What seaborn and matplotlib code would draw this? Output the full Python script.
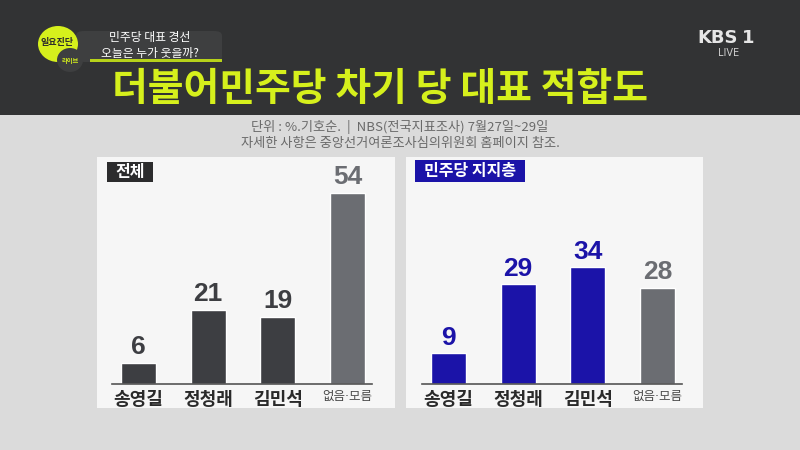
import numpy as np
import pandas as pd
import matplotlib
from matplotlib import pyplot as plt
from matplotlib.patches import Rectangle, FancyBboxPatch, Ellipse
import seaborn as sns

sns.set_theme(style='white')
matplotlib.rcParams['font.family'] = ['Noto Sans CJK KR', 'DejaVu Sans']

# data
candidates = ['송영길', '정청래', '김민석', '없음·모름']
overall = [6, 21, 19, 54]
supporters = [9, 29, 34, 28]

overall_colors = ['#3d3e42', '#3d3e42', '#3d3e42', '#6b6d72']
supporter_colors = ['#1b13a8', '#1b13a8', '#1b13a8', '#6b6d72']

W, H = 800, 450
fig = plt.figure(figsize=(8, 4.5), dpi=100)
fig.patch.set_facecolor('#dbdbdb')


def fx(x):
    return x / W


def fy(y):
    return 1 - y / H


def box(x0, y0, x1, y1, color, **kw):
    fig.patches.append(Rectangle((fx(x0), fy(y1)), fx(x1 - x0), (y1 - y0) / H,
                                 transform=fig.transFigure, facecolor=color,
                                 edgecolor='none', **kw))


# header band
box(0, 0, 800, 115, '#323334', zorder=0)
fig.text(fx(380), fy(89), '더불어민주당 차기 당 대표 적합도', color='#d6f01c',
         fontsize=28, fontweight='heavy', ha='center', va='center')

# program badge
fig.patches.append(FancyBboxPatch((fx(76), fy(62)), fx(146), 31 / H,
                                  boxstyle='round,pad=0,rounding_size=0.01',
                                  transform=fig.transFigure, facecolor='#3e3f40',
                                  edgecolor='none'))
box(90, 59, 222, 62, '#b7d21a')
fig.patches.append(Ellipse((fx(58), fy(44)), 40 / W, 36 / H, transform=fig.transFigure,
                           facecolor='#d6f01c', edgecolor='none'))
fig.patches.append(Ellipse((fx(70), fy(60)), 26 / W, 24 / H, transform=fig.transFigure,
                           facecolor='#3e3f40', edgecolor='none'))
fig.text(fx(57), fy(42), '일요진단', color='#2a2a2a', fontsize=6.5,
         fontweight='bold', ha='center', va='center')
fig.text(fx(70), fy(61), '라이브', color='#d6f01c', fontsize=4.5,
         fontweight='bold', ha='center', va='center')
fig.text(fx(150), fy(38), '민주당 대표 경선', color='white', fontsize=8.5,
         ha='center', va='center')
fig.text(fx(150), fy(53), '오늘은 누가 웃을까?', color='white', fontsize=8.5,
         ha='center', va='center')

# channel logo
fig.text(fx(718), fy(38), 'KBS', color='#e6e6e6', fontsize=13, fontweight='bold',
         ha='center', va='center', family='DejaVu Sans')
fig.text(fx(748), fy(38), '1', color='#e6e6e6', fontsize=13, fontweight='bold',
         ha='center', va='center', family='DejaVu Sans')
fig.text(fx(729), fy(53), 'LIVE', color='#d0d0d0', fontsize=7,
         ha='center', va='center', family='DejaVu Sans')

# source notes
fig.text(fx(400), fy(127), '단위 : %.기호순.  |  NBS(전국지표조사) 7월27일~29일',
         color='#6a6a6a', fontsize=9.5, ha='center', va='center')
fig.text(fx(400), fy(143), '자세한 사항은 중앙선거여론조사심의위원회 홈페이지 참조.',
         color='#6a6a6a', fontsize=9.5, ha='center', va='center')

# panels
box(97, 157, 395, 408, '#f6f6f6', zorder=0)
box(406, 157, 703, 408, '#f6f6f6', zorder=0)


def draw_panel(left, values, colors, ppu, tag, tag_box, tag_color):
    ax = fig.add_axes([fx(left), fy(384), fx(260), 200 / H])
    ax.set_zorder(1)
    df = pd.DataFrame({'cand': candidates, 'val': values})
    sns.barplot(data=df, x='cand', y='val', hue='cand', palette=colors,
                width=0.5, legend=False, ax=ax, saturation=1)
    ax.set_xlim(-0.38, 3.35)
    ax.set_ylim(0, 200 / ppu)
    ax.patch.set_alpha(0)
    for side in ['top', 'right', 'left']:
        ax.spines[side].set_visible(False)
    ax.spines['bottom'].set_color('#555555')
    ax.spines['bottom'].set_linewidth(1.2)
    ax.set_yticks([])
    ax.set_xlabel('')
    ax.set_ylabel('')
    ax.tick_params(axis='x', length=0, pad=4)
    ax.set_xticks(range(len(candidates)))
    ax.set_xticklabels(candidates)
    for i, t in enumerate(ax.get_xticklabels()):
        if i == 3:
            t.set_fontsize(9)
            t.set_color('#4a4a4a')
            t.set_family(['DejaVu Sans', 'Noto Sans CJK KR'])
        else:
            t.set_fontsize(13)
            t.set_fontweight('bold')
            t.set_color('#2a2a2a')
    for i, v in enumerate(values):
        ax.text(i, v + 1.0, str(v), ha='center', va='bottom', fontsize=19,
                fontweight='bold', color=colors[i], clip_on=False,
                family='Liberation Sans')
    x0, y0, x1, y1 = tag_box
    box(x0, y0, x1, y1, tag_color, zorder=2)
    fig.text(fx((x0 + x1) / 2), fy((y0 + y1) / 2), tag, color='white',
             fontsize=11.5, fontweight='bold', ha='center', va='center', zorder=3)
    return ax


draw_panel(112, overall, overall_colors, 3.54, '전체', (107, 162, 153, 182), '#2c2c2d')
draw_panel(422, supporters, supporter_colors, 3.44, '민주당 지지층', (415, 160, 525, 182), '#1b13a8')

plt.savefig('out.png', dpi=100, facecolor=fig.get_facecolor())
